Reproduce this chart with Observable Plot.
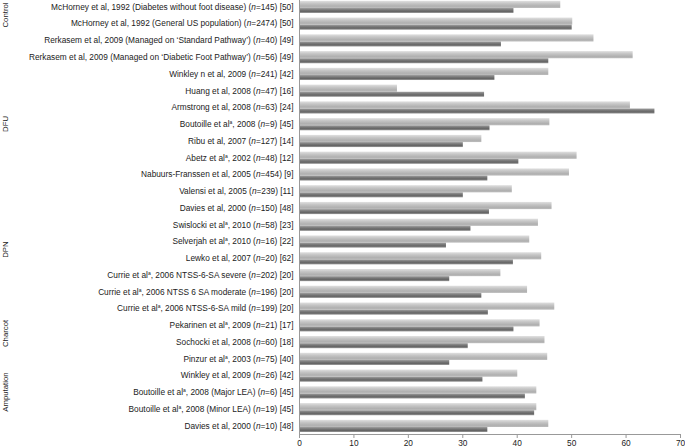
<!DOCTYPE html>
<html>
<head>
<meta charset="utf-8">
<script src="https://cdn.jsdelivr.net/npm/d3@7"></script>
<script src="https://cdn.jsdelivr.net/npm/@observablehq/plot@0.6"></script>
<style>
  html, body { margin: 0; padding: 0; background: #fff; }
  #chart { width: 685px; height: 448px; overflow: hidden; }
</style>
</head>
<body>
<div id="chart"></div>
<script>
// ---- Data ----
const studies = [
  "McHorney et al, 1992 (Diabetes without foot disease) (n=145) [50]",
  "McHorney et al, 1992 (General US population) (n=2474) [50]",
  "Rerkasem et al, 2009 (Managed on ‘Standard Pathway’) (n=40) [49]",
  "Rerkasem et al, 2009 (Managed on ‘Diabetic Foot Pathway’) (n=56) [49]",
  "Winkley n et al, 2009 (n=241) [42]",
  "Huang et al, 2008 (n=47) [16]",
  "Armstrong et al, 2008 (n=63) [24]",
  "Boutoille et alᵃ, 2008 (n=9) [45]",
  "Ribu et al, 2007 (n=127) [14]",
  "Abetz et alᵃ, 2002 (n=48) [12]",
  "Nabuurs-Franssen et al, 2005 (n=454) [9]",
  "Valensi et al, 2005 (n=239) [11]",
  "Davies et al, 2000 (n=150) [48]",
  "Swislocki et alᵃ, 2010 (n=58) [23]",
  "Selverjah et alᵃ, 2010 (n=16) [22]",
  "Lewko et al, 2007 (n=20) [62]",
  "Currie et alᵃ, 2006 NTSS-6-SA severe (n=202) [20]",
  "Currie et alᵃ, 2006 NTSS 6 SA moderate (n=196) [20]",
  "Currie et alᵃ, 2006 NTSS-6-SA mild (n=199) [20]",
  "Pekarinen et alᵃ, 2009 (n=21) [17]",
  "Sochocki et al, 2008 (n=60) [18]",
  "Pinzur et alᵃ, 2003 (n=75) [40]",
  "Winkley et al, 2009 (n=26) [42]",
  "Boutoille et alᵃ, 2008 (Major LEA) (n=6) [45]",
  "Boutoille et alᵃ, 2008 (Minor LEA) (n=19) [45]",
  "Davies et al, 2000 (n=10) [48]"
];
const lightValues = [48.0, 50.2, 54.1, 61.3, 45.8, 18.0, 60.8, 46.0, 33.5, 51.0, 49.6, 39.1, 46.4,
                     43.9, 42.3, 44.5, 37.0, 41.9, 46.9, 44.2, 45.1, 45.6, 40.1, 43.6, 43.6, 45.8];
const darkValues  = [39.4, 50.1, 37.1, 45.8, 35.9, 34.0, 65.3, 35.0, 30.1, 40.3, 34.6, 30.1, 34.9,
                     31.5, 27.0, 39.3, 27.6, 33.5, 34.7, 39.4, 31.0, 27.6, 33.7, 41.5, 43.2, 34.6];
const groupNames = ["Control", "DFU", "DPN", "Charcot", "Amputation"];
const groupFirst = [0, 2, 12, 19, 21];
const groupLast  = [1, 12, 17, 20, 25];
const xTicks = [0, 10, 20, 30, 40, 50, 60, 70];

// ---- Tables built from the arrays ----
const lightRows = studies.map((s, i) => ({study: s, value: lightValues[i]}));
const darkRows  = studies.map((s, i) => ({study: s, value: darkValues[i]}));

const W = 685, H = 448, ML = 299, MR = 5, MB = 14;

function gradientDefs() {
  const defs = d3.create("svg:defs");
  const lg = defs.append("linearGradient").attr("id", "gLight").attr("x1", 0).attr("y1", 0).attr("x2", 0).attr("y2", 1);
  [["0%", "#e0e0e0"], ["35%", "#c6c6c6"], ["75%", "#b0b0b0"], ["100%", "#bcbcbc"]]
    .forEach(([o, c]) => lg.append("stop").attr("offset", o).attr("stop-color", c));
  const dg = defs.append("linearGradient").attr("id", "gDark").attr("x1", 0).attr("y1", 0).attr("x2", 0).attr("y2", 1);
  [["0%", "#a0a0a0"], ["40%", "#777777"], ["70%", "#656565"], ["100%", "#9a9a9a"]]
    .forEach(([o, c]) => dg.append("stop").attr("offset", o).attr("stop-color", c));
  return defs.node();
}

function bottomAxisLine(index, scales, values, dims) {
  const y = dims.height - dims.marginBottom + 0.5;
  const x0 = scales.x(xTicks[0]), x1 = scales.x(xTicks[xTicks.length - 1]);
  return d3.create("svg:line")
    .attr("x1", x0).attr("x2", x1).attr("y1", y).attr("y2", y)
    .attr("stroke", "#999").attr("stroke-width", 1).node();
}

function groupLabels(index, scales, values, dims) {
  const step = scales.y(studies[1]) - scales.y(studies[0]);
  const g = d3.create("svg:g")
    .attr("font-size", "7.8px").attr("fill", "#222")
    .attr("font-family", "'Liberation Sans', Arial, sans-serif");
  groupNames.forEach((name, i) => {
    const top = scales.y(studies[groupFirst[i]]);
    const bot = scales.y(studies[groupLast[i]]) + step;
    const cy = Math.max((top + bot) / 2, 15);
    g.append("text")
      .attr("transform", `translate(8,${cy}) rotate(-90)`)
      .attr("text-anchor", "middle")
      .text(name);
  });
  return g.node();
}

const chart = Plot.plot({
  width: W, height: H, marginLeft: ML, marginRight: MR, marginTop: 0, marginBottom: MB,
  style: {fontFamily: "'Liberation Sans', Arial, sans-serif", fontSize: "8.3px", color: "#222", background: "#fff"},
  x: {domain: [0, 70], label: null},
  y: {domain: studies, range: [-1.8, H - MB], padding: 0, round: false, label: null},
  marks: [
    gradientDefs,
    Plot.barX(lightRows, {y: "study", x: "value", fill: "url(#gLight)", insetTop: 2.6, insetBottom: 7.0}),
    Plot.barX(darkRows, {y: "study", x: "value", fill: "url(#gDark)", insetTop: 9.76, insetBottom: 2.0}),
    Plot.ruleX([0], {stroke: "#999"}),
    bottomAxisLine,
    Plot.axisX(xTicks, {tickSize: 4, tickPadding: 2, stroke: "#999", fill: "#222", label: null}),
    Plot.axisY({tickSize: 0, tickPadding: 6, fill: "#222", label: null}),
    groupLabels
  ]
});

// italic "n" and superscript "a" in study labels
const studySet = new Set(studies);
d3.select(chart).selectAll("text").each(function() {
  const s = this.textContent;
  if (!studySet.has(s)) return;
  const el = d3.select(this);
  el.text(null);
  s.split(/(n=|ᵃ)/).forEach(part => {
    if (part === "n=") {
      el.append("tspan").attr("font-style", "italic").text("n");
      el.append("tspan").text("=");
    } else if (part === "ᵃ") {
      el.append("tspan").attr("font-size", "5px").attr("baseline-shift", "super").text("a");
    } else if (part) {
      el.append("tspan").text(part);
    }
  });
});

document.getElementById("chart").appendChild(chart);
</script>
</body>
</html>
